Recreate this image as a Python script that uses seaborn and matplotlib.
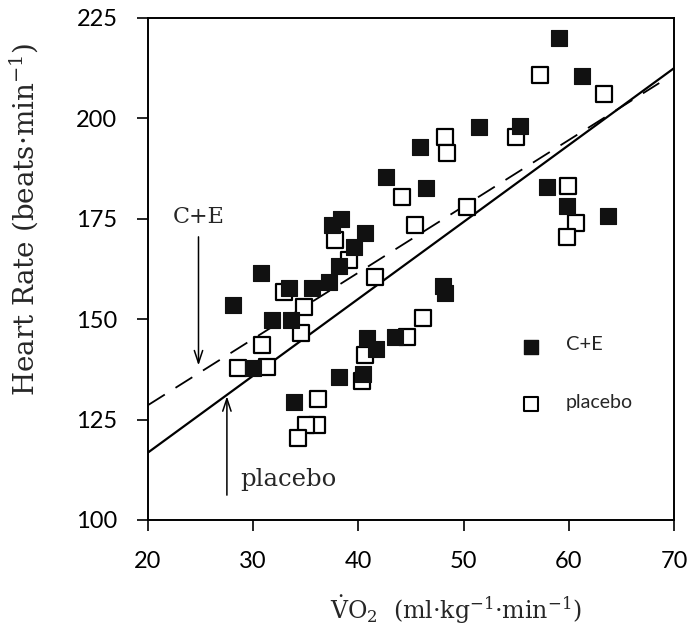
import matplotlib
matplotlib.use("Agg")
import matplotlib.pyplot as plt
import seaborn as sns
import pandas as pd
import numpy as np

# C+E (filled squares)
ce_vo2 = [59.1, 61.3, 55.4, 51.5, 45.9, 42.6, 46.4, 57.9, 59.8, 63.7,
          37.5, 38.3, 40.6, 39.6, 38.2, 37.2, 48.0, 48.2, 40.8, 43.5,
          41.7, 38.2, 40.4, 30.7, 33.4, 35.6, 28.1, 31.8, 33.6, 30.0, 33.9]
ce_hr = [220.0, 210.5, 198.1, 197.9, 193.0, 185.3, 182.6, 183.0, 178.2, 175.7,
         173.5, 175.0, 171.4, 168.1, 163.3, 159.3, 158.3, 156.5, 145.2, 145.5,
         142.7, 135.5, 136.3, 161.4, 157.7, 157.7, 153.5, 149.8, 149.8, 137.8, 129.5]

# placebo (open squares)
pl_vo2 = [57.3, 63.3, 48.2, 48.4, 55.0, 44.1, 50.3, 45.4, 59.9, 60.7,
          59.8, 37.8, 39.1, 41.6, 46.1, 44.6, 40.6, 40.3, 32.9, 34.8,
          34.5, 30.8, 28.6, 31.3, 36.2, 36.1, 35.0, 34.3]
pl_hr = [210.8, 206.1, 195.4, 191.5, 195.4, 180.5, 178.0, 173.5, 183.2, 173.9,
         170.5, 169.7, 164.7, 160.6, 150.2, 145.5, 141.1, 134.5, 156.8, 153.1,
         146.5, 143.6, 137.8, 138.0, 130.1, 123.7, 123.7, 120.3]

# regression lines (end points)
line_x = [20, 70]
placebo_line = [116.8, 212.5]
ce_line_x = [20, 68.6]
ce_line = [128.6, 208.8]

df = pd.concat([
    pd.DataFrame({"vo2": ce_vo2, "hr": ce_hr, "group": "C+E"}),
    pd.DataFrame({"vo2": pl_vo2, "hr": pl_hr, "group": "placebo"}),
])

sns.set_style("white")
plt.rcParams["font.family"] = ["DejaVu Serif"]
plt.rcParams["mathtext.fontset"] = "dejavuserif"

fig = plt.figure(figsize=(6.89, 6.32), dpi=100)
ax = fig.add_axes([148/689, 1-520/632, (674-148)/689, (520-18)/632])

sns.lineplot(x=line_x, y=placebo_line, ax=ax, color="black", lw=1.6)
sns.lineplot(x=ce_line_x, y=ce_line, ax=ax, color="black", lw=1.3,
             linestyle=(0, (11, 7)))

sns.scatterplot(data=df[df.group == "placebo"], x="vo2", y="hr", ax=ax,
                marker="s", s=120, facecolor="white", edgecolor="black",
                linewidth=1.6, zorder=3)
sns.scatterplot(data=df[df.group == "C+E"], x="vo2", y="hr", ax=ax,
                marker="s", s=120, color="#111111", edgecolor="#111111",
                linewidth=0.8, zorder=4)

ax.set_xlim(20, 70)
ax.set_ylim(100, 225)
ax.set_xticks([20, 30, 40, 50, 60, 70])
ax.set_yticks([100, 125, 150, 175, 200, 225])
for s in ax.spines.values():
    s.set_color("black")
    s.set_linewidth(1.4)
ax.tick_params(axis="both", direction="out", length=8, width=1.2,
               labelsize=17, colors="black", bottom=True, left=True)
ax.tick_params(axis="x", pad=14)
ax.tick_params(axis="y", pad=14)
for lab in ax.get_xticklabels() + ax.get_yticklabels():
    lab.set_family("Lato")

ax.set_ylabel("Heart Rate (beats·min$^{-1}$)", fontsize=20)
ax.yaxis.set_label_coords(-0.205, 0.598)
ax.set_xlabel(r"$\dot{\mathrm{V}}\mathrm{O}_2$  (ml·kg$^{-1}$·min$^{-1}$)",
              fontsize=17)
ax.xaxis.set_label_coords(0.586, -0.145)

# annotations
ax.text(24.8, 175.4, "C+E", fontsize=16, ha="center", va="center")
ax.annotate("", xy=(24.8, 137.8), xytext=(24.8, 171.2),
            arrowprops=dict(arrowstyle="->,head_length=0.9,head_width=0.3",
                            color="black", lw=1.1))
ax.text(28.8, 110.0, "placebo", fontsize=17.5, ha="left", va="center")
ax.annotate("", xy=(27.5, 131.5), xytext=(27.5, 105.5),
            arrowprops=dict(arrowstyle="->,head_length=0.9,head_width=0.3",
                            color="black", lw=1.1))

# legend
ax.scatter([56.4], [143.2], marker="s", s=110, color="#111111", zorder=4)
ax.text(59.7, 143.7, "C+E", fontsize=14.5, family="Lato", va="center")
ax.scatter([56.4], [128.8], marker="s", s=110, facecolor="white",
           edgecolor="black", linewidth=1.5, zorder=4)
ax.text(59.7, 129.3, "placebo", fontsize=14, family="Lato", va="center")

fig.savefig("out.png", dpi=100)
